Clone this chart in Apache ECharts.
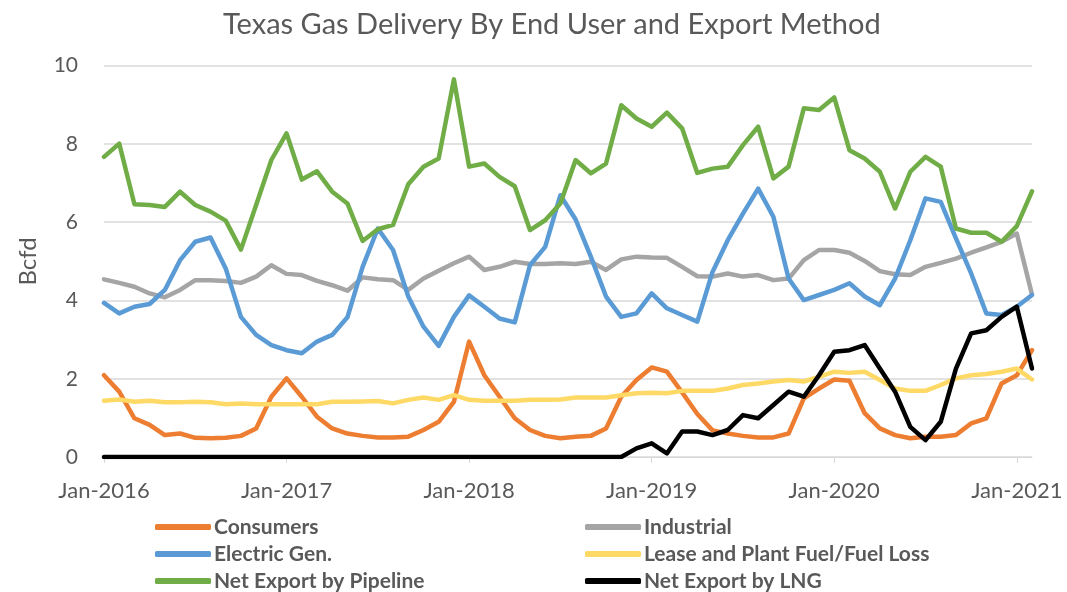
<!DOCTYPE html>
<html>
<head>
<meta charset="utf-8">
<title>Texas Gas Delivery</title>
<script src="https://cdn.jsdelivr.net/npm/echarts@6/dist/echarts.min.js"></script>
<style>
html,body{margin:0;padding:0;background:#fff;}
#chart{width:1067px;height:592px;}
</style>
</head>
<body>
<div id="chart"></div>
<script>
// months Jan-2016 .. Feb-2021
var months=[];
var mNames=['Jan','Feb','Mar','Apr','May','Jun','Jul','Aug','Sep','Oct','Nov','Dec'];
for(var y=2016;y<=2021;y++){
  for(var m=0;m<12;m++){
    if(y==2021&&m>1) break;
    months.push(mNames[m]+'-'+y);
  }
}

var consumers=[2.09,1.67,0.99,0.82,0.56,0.60,0.49,0.48,0.49,0.54,0.73,1.54,
  2.01,1.54,1.03,0.73,0.60,0.54,0.50,0.50,0.52,0.69,0.90,1.41,
  2.95,2.09,1.54,0.99,0.69,0.54,0.48,0.52,0.54,0.73,1.54,1.97,
  2.29,2.18,1.65,1.10,0.68,0.60,0.54,0.50,0.50,0.60,1.50,1.75,
  1.98,1.95,1.12,0.73,0.56,0.48,0.52,0.52,0.56,0.86,0.99,1.88,
  2.09,2.73];
var industrial=[4.54,4.45,4.35,4.18,4.08,4.27,4.52,4.52,4.50,4.45,4.61,4.90,
  4.68,4.65,4.50,4.39,4.25,4.59,4.54,4.52,4.27,4.56,4.76,4.95,
  5.12,4.78,4.86,4.99,4.93,4.93,4.95,4.93,4.99,4.78,5.05,5.12,
  5.10,5.09,4.86,4.62,4.61,4.69,4.61,4.65,4.52,4.56,5.03,5.29,
  5.29,5.22,5.01,4.75,4.67,4.65,4.86,4.96,5.07,5.22,5.36,5.50,
  5.71,4.15];
var electric=[3.94,3.67,3.84,3.91,4.27,5.03,5.50,5.61,4.82,3.58,3.12,2.86,
  2.73,2.65,2.95,3.12,3.57,4.86,5.84,5.29,4.10,3.33,2.84,3.58,
  4.13,3.84,3.54,3.44,4.90,5.37,6.69,6.07,5.12,4.10,3.58,3.67,
  4.18,3.80,3.63,3.46,4.73,5.54,6.22,6.86,6.14,4.56,4.01,4.14,
  4.27,4.44,4.10,3.88,4.56,5.54,6.61,6.52,5.59,4.69,3.67,3.63,
  3.84,4.14];
var leaseFuel=[1.44,1.47,1.41,1.44,1.40,1.40,1.41,1.40,1.35,1.37,1.35,1.35,
  1.35,1.35,1.35,1.41,1.41,1.42,1.43,1.37,1.46,1.52,1.46,1.58,
  1.46,1.44,1.44,1.44,1.46,1.46,1.47,1.52,1.52,1.52,1.58,1.63,
  1.64,1.63,1.69,1.69,1.69,1.75,1.84,1.88,1.93,1.97,1.93,2.05,
  2.18,2.15,2.18,1.97,1.75,1.69,1.69,1.84,2.01,2.09,2.12,2.18,
  2.26,1.98];
var pipeline=[7.67,8.01,6.46,6.44,6.39,6.78,6.44,6.27,6.04,5.30,6.44,7.59,
  8.27,7.09,7.30,6.78,6.48,5.52,5.82,5.93,6.97,7.42,7.63,9.65,
  7.42,7.50,7.16,6.92,5.80,6.05,6.48,7.59,7.25,7.50,8.99,8.65,
  8.44,8.80,8.40,7.26,7.37,7.42,7.97,8.44,7.12,7.42,8.91,8.87,
  9.19,7.84,7.63,7.29,6.35,7.29,7.67,7.42,5.84,5.73,5.73,5.50,
  5.90,6.79];
var lng=[0,0,0,0,0,0,0,0,0,0,0,0,
  0,0,0,0,0,0,0,0,0,0,0,0,
  0,0,0,0,0,0,0,0,0,0,0,0.22,
  0.35,0.09,0.65,0.65,0.56,0.69,1.07,0.99,1.33,1.67,1.54,2.09,
  2.69,2.73,2.86,2.26,1.67,0.77,0.43,0.90,2.26,3.16,3.24,3.58,
  3.84,2.26];

var names=['Consumers','Industrial','Electric Gen.','Lease and Plant Fuel/Fuel Loss','Net Export by Pipeline','Net Export by LNG'];
var colors=['#ED7D31','#A5A5A5','#5B9BD5','#FFD966','#70AD47','#000000'];
var values=[consumers,industrial,electric,leaseFuel,pipeline,lng];

var font='Lato';
var txt='#595959';

var series=[];
for(var i=0;i<names.length;i++){
  series.push({
    name:names[i],
    type:'line',
    data:values[i],
    symbol:'none',
    smooth:false,
    lineStyle:{width:4.5,color:colors[i],join:'round',cap:'round'},
    itemStyle:{color:colors[i]},
    z:2+i
  });
}

// one legend per item, two columns x three rows
var legends=[];
var colLeft=[150,580];
var rowMid=[522,549,576];
for(var k=0;k<names.length;k++){
  legends.push({
    left:colLeft[k%2],
    top:rowMid[Math.floor(k/2)]-12,
    itemWidth:56,
    itemHeight:6,
    icon:'roundRect',
    data:[names[k]],
    textStyle:{fontFamily:font,fontSize:21,fontWeight:'bold',color:txt,lineHeight:24,padding:[0,0,0,-2]}
  });
}

var myChart=echarts.init(document.getElementById('chart'));
var option={
  animation:false,
  backgroundColor:'#fff',
  color:colors,
  title:{
    text:'Texas Gas Delivery By End User and Export Method',
    left:218,
    top:5,
    textStyle:{fontFamily:font,fontSize:29,fontWeight:'normal',color:txt}
  },
  legend:legends,
  grid:{left:104,right:35,top:65.7,bottom:135,containLabel:false},
  xAxis:{
    type:'category',
    data:months,
    boundaryGap:false,
    axisLine:{lineStyle:{color:'#D9D9D9',width:1}},
    axisTick:{
      show:true,length:6,lineStyle:{color:'#D9D9D9'},
      interval:function(idx){return idx%12==0;}
    },
    axisLabel:{
      interval:function(idx){return idx%12==0;},
      margin:23,
      fontFamily:font,fontSize:22,color:txt
    },
    splitLine:{show:false}
  },
  yAxis:{
    type:'value',
    min:0,max:10,interval:2,
    name:'Bcfd',
    nameLocation:'middle',
    nameGap:64,
    nameTextStyle:{fontFamily:font,fontSize:24,color:txt},
    axisLine:{show:false},
    axisTick:{show:false},
    axisLabel:{margin:26,fontFamily:font,fontSize:21,color:txt},
    splitLine:{lineStyle:{color:'#D9D9D9',width:1.5}}
  },
  series:series
};
myChart.setOption(option);
</script>
</body>
</html>
